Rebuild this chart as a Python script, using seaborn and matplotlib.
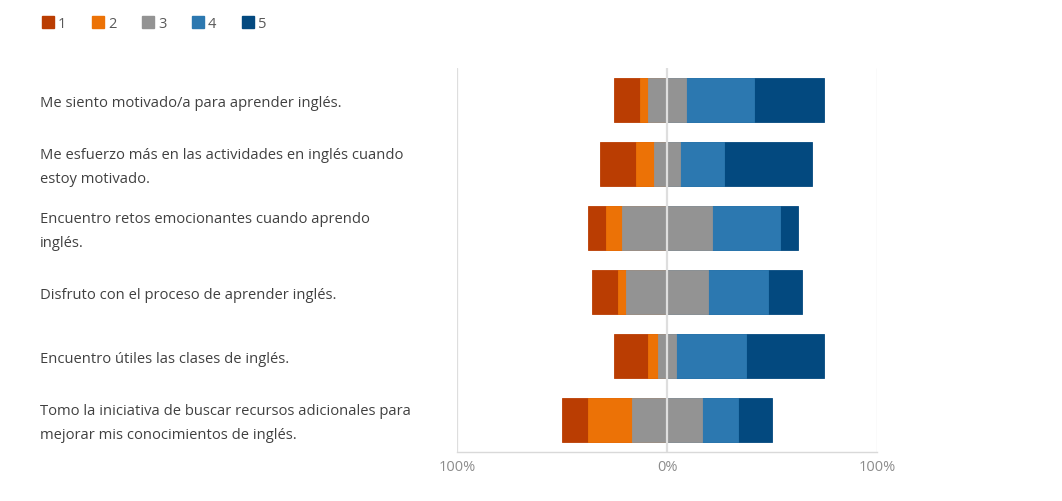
import numpy as np
import pandas as pd
import matplotlib
matplotlib.use("Agg")
import matplotlib.pyplot as plt
import matplotlib.transforms as mtransforms
from matplotlib.patches import Patch
import seaborn as sns

# ---- data ----
categories = [
    "Me siento motivado/a para aprender inglés.",
    "Me esfuerzo más en las actividades en inglés cuando\nestoy motivado.",
    "Encuentro retos emocionantes cuando aprendo\ninglés.",
    "Disfruto con el proceso de aprender inglés.",
    "Encuentro útiles las clases de inglés.",
    "Tomo la iniciativa de buscar recursos adicionales para\nmejorar mis conocimientos de inglés.",
]
level_labels = ["1", "2", "3", "4", "5"]
s1 = [12.4, 17.1, 8.6, 12.2, 16.0, 12.4]
s2 = [4.0, 8.6, 7.5, 4.0, 4.9, 21.0]
s3 = [17.8, 12.2, 43.0, 38.8, 8.6, 33.3]
s4 = [32.5, 21.1, 32.4, 28.6, 33.2, 17.1]
s5 = [33.3, 41.9, 8.4, 16.4, 37.3, 16.2]
tick_values = [-100, 0, 100]
tick_labels = ["100%", "0%", "100%"]

colors = ["#BA3D02", "#EC7206", "#939393", "#2C78B0", "#03497F"]

sns.set_theme(style="white")
plt.rcParams["font.family"] = ["Open Sans", "DejaVu Sans"]

df = pd.DataFrame({"cat": categories, "s1": s1, "s2": s2, "s3": s3, "s4": s4, "s5": s5})
a1, a2, a3, a4, a5 = [np.array(df[c]) for c in ["s1", "s2", "s3", "s4", "s5"]]
# overlay layers (drawn in order, each on top of previous)
layers = [
    (-(a1 + a2 + a3 / 2), colors[0]),
    (-(a2 + a3 / 2), colors[1]),
    (-(a3 / 2), colors[2]),
    (a3 / 2 + a4 + a5, colors[4]),
    (a3 / 2 + a4, colors[3]),
    (a3 / 2, colors[2]),
]

fig = plt.figure(figsize=(10.62, 5.02), dpi=100)
ax = fig.add_axes([457 / 1062, 1 - 453 / 502, 420 / 1062, 384 / 502])

for vals, col in layers:
    sns.barplot(x=vals, y=df["cat"], orient="h", color=col, width=0.69,
                ax=ax, saturation=1, edgecolor=col, linewidth=0.6)

ax.set_xlim(-100, 100)
ax.set_ylim(len(categories) - 0.5, -0.5)
ax.set_xlabel("")
ax.set_ylabel("")
ax.set_yticks([])
ax.set_xticks(tick_values)
ax.set_xticklabels(tick_labels, color="#8C8C8C", fontsize=10.5)
ax.tick_params(axis="x", length=0, pad=5)
for sp in ["top", "left", "right"]:
    ax.spines[sp].set_visible(False)
ax.spines["bottom"].set_color("#D9D9D9")
ax.spines["bottom"].set_linewidth(1.0)

for v in tick_values:
    ax.axvline(v, color="#DEDEDE", lw=1.6 if v == 0 else 0.9, zorder=10)

# category labels on left
trans = mtransforms.blended_transform_factory(fig.transFigure, ax.transData)
for i, c in enumerate(categories):
    ax.text(40 / 1062, i + 0.035, c, transform=trans, ha="left", va="center",
            fontsize=10.6, color="#404040", linespacing=1.8)

# legend
handles = [Patch(facecolor=c, edgecolor=c) for c in colors]
leg = fig.legend(handles, level_labels, loc="upper left", bbox_to_anchor=(29 / 1062, 1 - 4 / 502),
                 ncol=5, frameon=False, fontsize=10.5, handlelength=0.8, handleheight=0.8,
                 handletextpad=0.3, columnspacing=1.75)
for t in leg.get_texts():
    t.set_color("#595959")

fig.savefig("out.png", dpi=100)
